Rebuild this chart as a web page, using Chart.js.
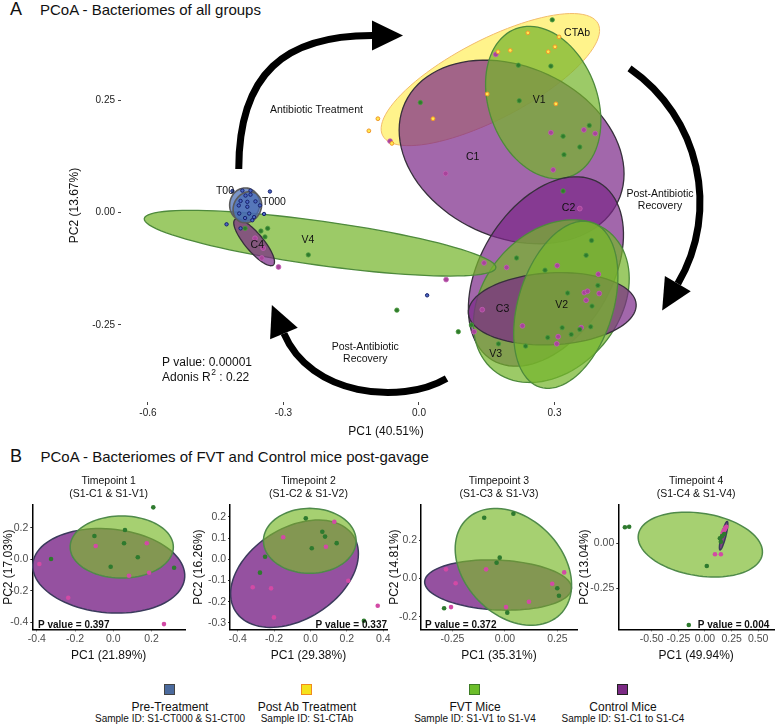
<!DOCTYPE html>
<html lang="en">
<head>
    <meta charset="UTF-8">
    <meta name="viewport" content="width=device-width, initial-scale=1.0">
    <title>PCoA - Bacteriomes</title>
    <script src="https://cdn.jsdelivr.net/npm/chart.js"></script>
    <style>
        body {
            margin: 0;
            background: #fff;
        }
        #fig {
            position: relative;
            width: 778px;
            height: 724px;
            overflow: hidden;
            font-family: "Liberation Sans", Arial, Helvetica, sans-serif;
            color: #111;
        }
        #fig canvas {
            position: absolute;
        }
        .txt {
            position: absolute;
            white-space: nowrap;
            line-height: 1;
        }
        .swatch {
            position: absolute;
            width: 9px;
            height: 9px;
            border: 1.5px solid #333;
        }
    </style>
</head>
<body>
<div id="fig">
    <div class="txt" style="left:10px; top:0px; font-size:18px;">A</div>
    <div class="txt" style="left:40px; top:1.8px; font-size:15px;">PCoA - Bacteriomes of all groups</div>
    <canvas id="pcoaAll" width="778" height="445" style="left:0; top:0;"></canvas>

    <div class="txt" style="left:10px; top:446.8px; font-size:18px;">B</div>
    <div class="txt" style="left:40.5px; top:448.8px; font-size:15px;">PCoA - Bacteriomes of FVT and Control mice post-gavage</div>
    <canvas id="tp1"></canvas>
    <canvas id="tp2"></canvas>
    <canvas id="tp3"></canvas>
    <canvas id="tp4"></canvas>
</div>

<script>
    const FONT = '"Liberation Sans", Arial, Helvetica, sans-serif';

    // ---------- Panel A: PCoA of all groups ----------
    const preX = [-0.413, -0.391, -0.373, -0.330, -0.384, -0.373, -0.395, -0.380, -0.362, -0.352, -0.399,
                  -0.380, -0.398, -0.376, -0.365, -0.343, -0.385, -0.426, -0.369, -0.395, 0.018];
    const preY = [0.048, 0.049, 0.049, 0.047, 0.038, 0.040, 0.026, 0.024, 0.025, 0.016, 0.016,
                  0.013, -0.002, -0.002, -0.010, -0.003, -0.012, -0.026, -0.017, -0.035, -0.184];

    const ctabX = [0.241, 0.310, 0.175, 0.202, 0.286, 0.301, 0.151, 0.303, 0.031, -0.060, -0.091, -0.111];
    const ctabY = [0.400, 0.391, 0.358, 0.361, 0.358, 0.369, 0.264, 0.242, 0.209, 0.154, 0.209, 0.182];

    const fvtX = [0.295, 0.220, 0.292, 0.222, 0.003, 0.377, 0.319, 0.356, 0.321, 0.319,
                  0.382, 0.370, 0.216, 0.279, 0.396, 0.329, 0.383, 0.116, 0.087, 0.317, 0.356,
                  0.380, 0.337, 0.285, 0.236, 0.176, -0.049,
                  -0.385, -0.335, -0.350, -0.341, -0.245];
    const fvtY = [0.429, 0.328, 0.326, 0.249, 0.245, 0.194, 0.170, 0.146, 0.129, 0.048,
                  -0.062, -0.095, -0.101, -0.128, -0.162, -0.179, -0.208, -0.250, -0.265, -0.256, -0.260,
                  -0.254, -0.271, -0.278, -0.297, -0.292, -0.217,
                  -0.035, -0.035, -0.041, -0.054, -0.094];

    const ctrlX = [0.170, -0.064, 0.292, 0.365, 0.390, 0.297, 0.059, 0.356, 0.144, 0.194, 0.306, 0.397,
                   0.366, 0.373, 0.399, 0.370, 0.140, 0.229, 0.122, 0.359, 0.308, 0.305, 0.060,
                   -0.311, -0.363, -0.348, -0.345];
    const ctrlY = [0.352, 0.159, 0.178, 0.184, 0.176, 0.095, 0.087, 0.009, -0.112, -0.122, -0.118, -0.137,
                   -0.178, -0.175, -0.180, -0.195, -0.216, -0.252, -0.265, -0.256, -0.276, -0.292, -0.149,
                   -0.121, -0.057, -0.101, -0.079];

    // group ellipses: centre, semi-axes, rotation (deg), listed in drawing order
    const ellGroup = ['CTAb', 'Control', 'FVT', 'Control', 'FVT', 'Control', 'FVT', 'FVT', 'Control', 'Pre', 'Pre'];
    const ellCx    = [0.158, 0.205, 0.275, 0.281, 0.293, 0.295, 0.325, -0.219, -0.365, -0.386, -0.380];
    const ellCy    = [0.296, 0.135, 0.245, -0.131, -0.197, -0.214, -0.205, -0.068, -0.066, 0.018, 0.012];
    const ellA     = [0.269, 0.260, 0.175, 0.230, 0.200, 0.186, 0.192, 0.393, 0.066, 0.037, 0.036];
    const ellB     = [0.088, 0.190, 0.120, 0.145, 0.150, 0.080, 0.105, 0.049, 0.020, 0.033, 0.030];
    const ellAngle = [27.6, -25, 110, 59, 50, 3, 72.7, -8, -50, 80, 60];

    const ellLabel  = ['CTAb', 'V1', 'C1', 'C2', 'C3', 'V2', 'V3', 'V4', 'C4', 'T00', 'T000'];
    const ellLabelX = [0.350, 0.266, 0.119, 0.331, 0.185, 0.316, 0.170, -0.246, -0.358, -0.4295, -0.321];
    const ellLabelY = [0.400, 0.250, 0.124, 0.011, -0.215, -0.2055, -0.3156, -0.062, -0.073, 0.048, 0.0235];

    // curved arrows: start, control 1, control 2, end (data units)
    const arrowPaths = [
        [[-0.399, 0.097], [-0.399, 0.310], [-0.297, 0.394], [-0.104, 0.394]],
        [[0.466, 0.321], [0.621, 0.213], [0.668, 0.005], [0.573, -0.158]],
        [[0.061, -0.369], [-0.042, -0.429], [-0.241, -0.407], [-0.299, -0.269]]
    ];
    const noteText = [['Antibiotic Treatment'], ['Post-Antibiotic', 'Recovery'], ['Post-Antibiotic', 'Recovery']];
    const noteX = [-0.227, 0.5335, -0.119];
    const noteY = [0.228, 0.028, -0.313];

    const aXTicks = [-0.6, -0.3, 0, 0.3];
    const aXTickLabels = ['-0.6', '-0.3', '0.0', '0.3'];
    const aYTicks = [-0.25, 0, 0.25];
    const aYTickLabels = ['-0.25', '0.00', '0.25'];

    // ---------- Panel B: FVT vs control per timepoint ----------
    const b1FvtX = [0.209, 0.061, -0.099, 0.056, -0.326, 0.128, -0.014, 0.318];
    const b1FvtY = [0.330, 0.186, 0.148, 0.102, 0.002, 0.013, -0.047, -0.053];
    const b1CtrlX = [-0.387, -0.092, 0.175, 0.082, 0.187, -0.236, 0.265];
    const b1CtrlY = [-0.030, 0.085, 0.102, -0.104, -0.085, -0.244, -0.411];

    const b2FvtX = [-0.026, 0.065, 0.080, 0.007, 0.144, -0.250, -0.278, 0.294];
    const b2FvtY = [0.193, 0.130, 0.107, 0.052, 0.076, 0.012, -0.063, -0.290];
    const b2CtrlX = [0.131, -0.150, 0.085, 0.208, -0.318, -0.217, -0.201, 0.370];
    const b2CtrlY = [0.177, 0.104, 0.059, -0.101, -0.132, -0.137, -0.274, -0.219];

    const b3FvtX = [-0.099, 0.040, -0.025, -0.040, 0.249, 0.257, -0.290, 0.011];
    const b3FvtY = [0.316, 0.337, 0.108, 0.081, -0.052, -0.091, -0.156, -0.179];
    const b3CtrlX = [-0.281, -0.090, -0.235, 0.282, 0.225, 0.114, 0.005, -0.257];
    const b3CtrlY = [0.047, 0.047, -0.026, 0.031, -0.028, -0.122, -0.150, -0.150];

    const b4FvtX = [-0.752, -0.712, 0.017, -0.152, 0.180, 0.149, 0.140, 0.160];
    const b4FvtY = [0.089, 0.092, -0.126, -0.454, 0.052, 0.009, 0.028, 0.040];
    const b4CtrlX = [0.094, 0.149, 0.186, 0.201, 0.166, 0.190, 0.175];
    const b4CtrlY = [-0.061, -0.061, 0.078, 0.092, 0.057, 0.085, 0.070];

    const bFvtCx = [0.044, -0.004, 0.040, -0.044];
    const bFvtCy = [0.078, 0.087, 0.060, -0.007];
    const bFvtA = [0.270, 0.255, 0.335, 0.585];
    const bFvtB = [0.197, 0.153, 0.240, 0.175];
    const bFvtAngle = [0, 0, -53.6, -4.4];
    const bCtrlCx = [-0.024, -0.088, -0.033, 0.175];
    const bCtrlCy = [-0.073, -0.068, -0.035, 0.042];
    const bCtrlA = [0.400, 0.372, 0.350, 0.086];
    const bCtrlB = [0.265, 0.222, 0.130, 0.020];
    const bCtrlAngle = [-8, 24, -3, 66];

    const bTitles = ['Timepoint 1', 'Timepoint 2', 'Timpepoint 3', 'Timepoint 4'];
    const bSubtitles = ['(S1-C1 & S1-V1)', '(S1-C2 & S1-V2)', '(S1-C3 & S1-V3)', '(S1-C4 & S1-V4)'];
    const bXTitles = ['PC1 (21.89%)', 'PC1 (29.38%)', 'PC1 (35.31%)', 'PC1 (49.94%)'];
    const bYTitles = ['PC2 (17.03%)', 'PC2 (16.26%)', 'PC2 (14.81%)', 'PC2 (13.04%)'];
    const bPValues = ['P value = 0.397', 'P value = 0.337', 'P value = 0.372', 'P value = 0.004'];

    const bXTicks = [[-0.4, -0.2, 0, 0.2], [-0.4, -0.2, 0, 0.2, 0.4], [-0.25, 0, 0.25], [-0.5, -0.25, 0, 0.25, 0.5]];
    const bXTickLabels = [['-0.4', '-0.2', '0.0', '0.2'], ['-0.4', '-0.2', '0.0', '0.2', '0.4'],
                          ['-0.25', '0.00', '0.25'], ['-0.50', '-0.25', '0.00', '0.25', '0.50']];
    const bYTicks = [[-0.4, -0.2, 0, 0.2], [-0.3, -0.2, -0.1, 0, 0.1, 0.2], [-0.2, 0, 0.2], [-0.25, 0]];
    const bYTickLabels = [['-0.4', '-0.2', '0.0', '0.2'], ['-0.3', '-0.2', '-0.1', '0.0', '0.1', '0.2'],
                          ['-0.2', '0.0', '0.2'], ['-0.25', '0.00']];

    // legend
    const legendNames = ['Pre-Treatment', 'Post Ab Treatment', 'FVT Mice', 'Control Mice'];
    const legendIds = ['Sample ID: S1-CT000 & S1-CT00', 'Sample ID: S1-CTAb', 'Sample ID: S1-V1 to S1-V4', 'Sample ID: S1-C1 to S1-C4'];

    // ---------- styles / layout ----------
    const groupStyle = {
        Pre: { fill: 'rgba(72,108,180,0.72)', stroke: '#5c5c5c', lw: 1.6 },
        CTAb: { fill: 'rgba(255,238,90,0.7)', stroke: '#f2bb6b', lw: 1 },
        FVT: { fill: 'rgba(118,182,44,0.72)', stroke: '#4e8a3c', lw: 1.3 },
        Control: { fill: 'rgba(122,38,136,0.7)', stroke: '#37303c', lw: 1.3 }
    };
    const subFvtStyle = { fill: 'rgba(124,186,46,0.68)', stroke: '#4f8a4a', lw: 1.5 };
    const subCtrlStyle = { fill: 'rgba(122,38,136,0.8)', stroke: '#3b3b5c', lw: 1.5 };

    const legendX = [170, 307, 475, 623];
    const legendFill = ['#4b6a9d', '#f5e21c', '#6cbe2a', '#7b2a84'];
    const legendBorder = ['#444', '#f08b1f', '#3e7c26', '#222'];

    // sub-panel canvases: left, width, y-axis width, right padding, axis ranges
    const subLeft = [0, 190, 386, 576];
    const subWidth = [193, 205, 199, 202];
    const subYAxisW = [32.3, 40, 35, 42.3];
    const subPadRight = [8, 8, 8, 1.3];
    const subXRange = [[-0.424, 0.375], [-0.443, 0.421], [-0.40, 0.343], [-0.814, 0.648]];
    const subYRange = [[-0.444, 0.345], [-0.330, 0.256], [-0.266, 0.383], [-0.478, 0.213]];
    const subPAlign = ['left', 'right', 'left', 'right'];
    const subPOffset = [5.7, 0, 4, -4.7];

    function pts(xs, ys) {
        return xs.map((x, i) => ({ x: x, y: ys[i] }));
    }

    function ellipsePlugin(list) {
        return {
            id: 'ellipses',
            beforeDatasetsDraw(chart) {
                const ctx = chart.ctx;
                const sx = chart.scales.x, sy = chart.scales.y;
                list.forEach(e => {
                    const th = e.angle * Math.PI / 180;
                    ctx.save();
                    ctx.beginPath();
                    for (let i = 0; i <= 96; i++) {
                        const t = i / 96 * Math.PI * 2;
                        const u = e.a * Math.cos(t), v = e.b * Math.sin(t);
                        const px = sx.getPixelForValue(e.cx + u * Math.cos(th) - v * Math.sin(th));
                        const py = sy.getPixelForValue(e.cy + u * Math.sin(th) + v * Math.cos(th));
                        if (i === 0) ctx.moveTo(px, py); else ctx.lineTo(px, py);
                    }
                    ctx.closePath();
                    ctx.fillStyle = e.style.fill;
                    ctx.fill();
                    ctx.lineWidth = e.style.lw;
                    ctx.strokeStyle = e.style.stroke;
                    ctx.stroke();
                    ctx.restore();
                });
            }
        };
    }

    function drawArrow(ctx, sx, sy, path) {
        const p = path.map(q => ({ x: sx.getPixelForValue(q[0]), y: sy.getPixelForValue(q[1]) }));
        ctx.save();
        ctx.beginPath();
        ctx.moveTo(p[0].x, p[0].y);
        ctx.bezierCurveTo(p[1].x, p[1].y, p[2].x, p[2].y, p[3].x, p[3].y);
        ctx.lineWidth = 7;
        ctx.strokeStyle = '#000';
        ctx.lineCap = 'butt';
        ctx.stroke();
        const dx = p[3].x - p[2].x, dy = p[3].y - p[2].y;
        const len = Math.hypot(dx, dy);
        const ux = dx / len, uy = dy / len;
        ctx.beginPath();
        ctx.moveTo(p[3].x + ux * 31, p[3].y + uy * 31);
        ctx.lineTo(p[3].x - uy * 15, p[3].y + ux * 15);
        ctx.lineTo(p[3].x + uy * 15, p[3].y - ux * 15);
        ctx.closePath();
        ctx.fillStyle = '#000';
        ctx.fill();
        ctx.restore();
    }

    const panelANotes = {
        id: 'panelANotes',
        afterDatasetsDraw(chart) {
            const ctx = chart.ctx;
            const sx = chart.scales.x, sy = chart.scales.y;
            ctx.save();
            ctx.fillStyle = '#111';
            ctx.textAlign = 'center';
            ctx.textBaseline = 'middle';
            ctx.font = '10.5px ' + FONT;
            ellLabel.forEach((t, i) => {
                ctx.fillText(t, sx.getPixelForValue(ellLabelX[i]), sy.getPixelForValue(ellLabelY[i]));
            });
            arrowPaths.forEach(a => drawArrow(ctx, sx, sy, a));
            ctx.fillStyle = '#111';
            ctx.font = '10.5px ' + FONT;
            noteText.forEach((lines, i) => {
                const cx = sx.getPixelForValue(noteX[i]);
                const cy = sy.getPixelForValue(noteY[i]);
                lines.forEach((ln, k) => {
                    ctx.fillText(ln, cx, cy + (k - (lines.length - 1) / 2) * 12.6);
                });
            });
            // adonis result
            ctx.textAlign = 'left';
            ctx.font = '12px ' + FONT;
            const lx = sx.getPixelForValue(-0.569);
            const ly = sy.getPixelForValue(-0.3333);
            ctx.fillText('P value: 0.00001', lx, ly);
            let x = lx;
            const y2 = ly + 15;
            ctx.fillText('Adonis R', x, y2);
            x += ctx.measureText('Adonis R').width;
            ctx.font = '8.5px ' + FONT;
            ctx.fillText('2', x + 0.5, y2 - 4.5);
            x += ctx.measureText('2').width + 0.5;
            ctx.font = '12px ' + FONT;
            ctx.fillText(' : 0.22', x, y2);
            ctx.restore();
        }
    };

    function fixedTicks(values) {
        return axis => { axis.ticks = values.map(v => ({ value: v })); };
    }

    function buildPanelA() {
        const ellipses = ellGroup.map((g, i) => ({
            cx: ellCx[i], cy: ellCy[i], a: ellA[i], b: ellB[i], angle: ellAngle[i], style: groupStyle[g]
        }));
        new Chart(document.getElementById('pcoaAll'), {
            type: 'scatter',
            data: {
                datasets: [
                    { label: 'Pre-Treatment', data: pts(preX, preY), pointRadius: 1.7, borderWidth: 1,
                      backgroundColor: '#4c68c4', borderColor: '#16206a' },
                    { label: 'Post Ab Treatment', data: pts(ctabX, ctabY), pointRadius: 1.9, borderWidth: 1,
                      backgroundColor: '#ffe94d', borderColor: '#f0962a' },
                    { label: 'FVT Mice', data: pts(fvtX, fvtY), pointRadius: 2.2, borderWidth: 0.8,
                      backgroundColor: '#2f7a2c', borderColor: '#4c9c3f' },
                    { label: 'Control Mice', data: pts(ctrlX, ctrlY), pointRadius: 2.4, borderWidth: 0.8,
                      backgroundColor: '#a8449a', borderColor: '#c25fb4' }
                ]
            },
            options: {
                responsive: false,
                animation: false,
                devicePixelRatio: 1,
                events: [],
                clip: false,
                layout: { padding: { left: 0, top: 5, right: 127, bottom: 0 } },
                plugins: { legend: { display: false }, tooltip: { enabled: false }, title: { display: false } },
                scales: {
                    x: {
                        type: 'linear', min: -0.6597, max: 0.5136,
                        afterBuildTicks: fixedTicks(aXTicks),
                        afterFit: s => { s.height = 43; },
                        ticks: { callback: (v, i) => aXTickLabels[i], font: { family: FONT, size: 10 }, color: '#222',
                                 padding: 2, autoSkip: false, maxRotation: 0, minRotation: 0 },
                        grid: { display: true, drawOnChartArea: false, drawTicks: true, tickLength: 3, color: '#444' },
                        border: { display: false },
                        title: { display: true, text: 'PC1 (40.51%)', font: { family: FONT, size: 12 }, color: '#111',
                                 padding: { top: 0, bottom: 6.5 } }
                    },
                    y: {
                        type: 'linear', min: -0.4214, max: 0.4531,
                        afterBuildTicks: fixedTicks(aYTicks),
                        afterFit: s => { s.width = 121; },
                        ticks: { callback: (v, i) => aYTickLabels[i], font: { family: FONT, size: 10 }, color: '#222',
                                 padding: 3 },
                        grid: { display: true, drawOnChartArea: false, drawTicks: true, tickLength: 3, color: '#444' },
                        border: { display: false },
                        title: { display: true, text: 'PC2 (13.67%)', font: { family: FONT, size: 12 }, color: '#111',
                                 padding: { top: 67.8, bottom: 0 } }
                    }
                }
            },
            plugins: [ellipsePlugin(ellipses), panelANotes]
        });
    }

    function buildSub(k, fvtXs, fvtYs, ctrlXs, ctrlYs) {
        const canvas = document.getElementById('tp' + (k + 1));
        canvas.width = subWidth[k];
        canvas.height = 195;
        canvas.style.left = subLeft[k] + 'px';
        canvas.style.top = '470px';

        const fvtEll = { cx: bFvtCx[k], cy: bFvtCy[k], a: bFvtA[k], b: bFvtB[k], angle: bFvtAngle[k], style: subFvtStyle };
        const ctrlEll = { cx: bCtrlCx[k], cy: bCtrlCy[k], a: bCtrlA[k], b: bCtrlB[k], angle: bCtrlAngle[k], style: subCtrlStyle };
        // in the last timepoint the narrow control ellipse sits on top
        const ellipses = k === 3 ? [fvtEll, ctrlEll] : [ctrlEll, fvtEll];

        const pLabel = {
            id: 'pLabel',
            afterDatasetsDraw(chart) {
                const ctx = chart.ctx, area = chart.chartArea;
                ctx.save();
                ctx.font = 'bold 10px ' + FONT;
                ctx.fillStyle = '#111';
                ctx.textBaseline = 'middle';
                ctx.textAlign = subPAlign[k];
                const x = subPAlign[k] === 'left' ? area.left + subPOffset[k] : area.right + subPOffset[k];
                ctx.fillText(bPValues[k], x, area.bottom - 4.5);
                ctx.restore();
            }
        };

        const tickFont = { family: FONT, size: 10.5 };
        new Chart(canvas, {
            type: 'scatter',
            data: {
                datasets: [
                    { label: 'FVT Mice', data: pts(fvtXs, fvtYs), pointRadius: 2.3, borderWidth: 0,
                      backgroundColor: '#2e7a2e' },
                    { label: 'Control Mice', data: pts(ctrlXs, ctrlYs), pointRadius: 2.3, borderWidth: 0,
                      backgroundColor: '#d24aa5' }
                ]
            },
            options: {
                responsive: false,
                animation: false,
                devicePixelRatio: 1,
                events: [],
                clip: false,
                layout: { padding: { left: 0, top: 0, right: subPadRight[k], bottom: 0 } },
                plugins: {
                    legend: { display: false },
                    tooltip: { enabled: false },
                    title: {
                        display: true, text: [bTitles[k], bSubtitles[k]], fullSize: false,
                        font: { family: FONT, size: 10.5, weight: 'normal', lineHeight: 1.27 }, color: '#111',
                        padding: { top: 4.3, bottom: 4 }
                    }
                },
                scales: {
                    x: {
                        type: 'linear', min: subXRange[k][0], max: subXRange[k][1],
                        afterBuildTicks: fixedTicks(bXTicks[k]),
                        afterFit: s => { s.height = 35.7; },
                        ticks: { callback: (v, i) => bXTickLabels[k][i], font: tickFont, color: '#4d4d4d',
                                 padding: 2, autoSkip: false, maxRotation: 0, minRotation: 0 },
                        grid: { display: true, drawOnChartArea: false, drawTicks: true, tickLength: 2, color: '#333' },
                        border: { display: true, color: '#000', width: 1.5 },
                        title: { display: true, text: bXTitles[k], font: { family: FONT, size: 12 }, color: '#111',
                                 padding: { top: 0, bottom: 2 } }
                    },
                    y: {
                        type: 'linear', min: subYRange[k][0], max: subYRange[k][1],
                        afterBuildTicks: fixedTicks(bYTicks[k]),
                        afterFit: s => { s.width = subYAxisW[k]; },
                        ticks: { callback: (v, i) => bYTickLabels[k][i], font: tickFont, color: '#4d4d4d', padding: 2 },
                        grid: { display: true, drawOnChartArea: false, drawTicks: true, tickLength: 2, color: '#333' },
                        border: { display: true, color: '#000', width: 1.5 },
                        title: { display: true, text: bYTitles[k], font: { family: FONT, size: 12 }, color: '#111',
                                 padding: { top: 1, bottom: 0 } }
                    }
                }
            },
            plugins: [ellipsePlugin(ellipses), pLabel]
        });
    }

    function buildLegend() {
        const fig = document.getElementById('fig');
        legendNames.forEach((name, i) => {
            const sw = document.createElement('div');
            sw.className = 'swatch';
            sw.style.left = (legendX[i] - 6) + 'px';
            sw.style.top = '684px';
            sw.style.background = legendFill[i];
            sw.style.borderColor = legendBorder[i];
            fig.appendChild(sw);

            const lbl = document.createElement('div');
            lbl.className = 'txt';
            lbl.style.left = (legendX[i] - 100) + 'px';
            lbl.style.width = '200px';
            lbl.style.textAlign = 'center';
            lbl.style.top = '700.5px';
            lbl.style.fontSize = '12px';
            lbl.textContent = name;
            fig.appendChild(lbl);

            const id = document.createElement('div');
            id.className = 'txt';
            id.style.left = (legendX[i] - 100) + 'px';
            id.style.width = '200px';
            id.style.textAlign = 'center';
            id.style.top = '714.2px';
            id.style.fontSize = '10px';
            id.textContent = legendIds[i];
            fig.appendChild(id);
        });
    }

    document.addEventListener('DOMContentLoaded', () => {
        buildPanelA();
        buildSub(0, b1FvtX, b1FvtY, b1CtrlX, b1CtrlY);
        buildSub(1, b2FvtX, b2FvtY, b2CtrlX, b2CtrlY);
        buildSub(2, b3FvtX, b3FvtY, b3CtrlX, b3CtrlY);
        buildSub(3, b4FvtX, b4FvtY, b4CtrlX, b4CtrlY);
        buildLegend();
    });
</script>
</body>
</html>
